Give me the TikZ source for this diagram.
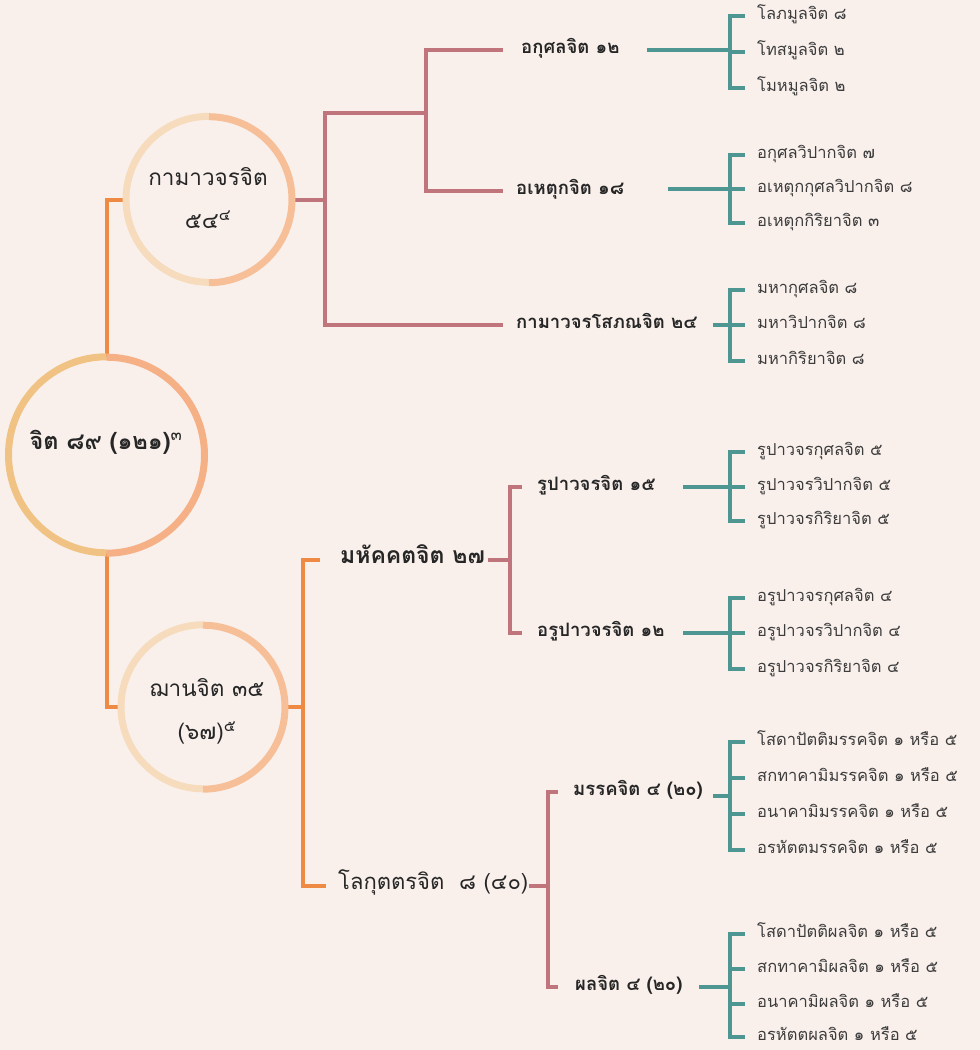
\documentclass[tikz,border=0pt]{standalone}
\usepackage{fontspec}
\newfontfamily\thai[Script=Thai]{Loma}
\definecolor{bg}{HTML}{F9F0EC}
\definecolor{orangeln}{HTML}{EF8A45}
\definecolor{pinkln}{HTML}{C0747C}
\definecolor{tealln}{HTML}{4E9692}
\definecolor{ringAL}{HTML}{F0C384}
\definecolor{ringAR}{HTML}{F5B086}
\definecolor{ringBL}{HTML}{F6DCBD}
\definecolor{ringBR}{HTML}{F7BF98}
\definecolor{txtdark}{HTML}{262626}
\definecolor{txtchild}{HTML}{3C3C3C}
\begin{document}
\begin{tikzpicture}[x=1pt,y=-1pt,
  ringnode/.style={circle,inner sep=0pt,draw=none},
  oline/.style={draw=orangeln,line width=4pt},
  pline/.style={draw=pinkln,line width=4pt},
  tline/.style={draw=tealln,line width=4.5pt},
  lab/.style={inner sep=0pt,anchor=west,text height=0.85em,text depth=0.15em},
  ctext/.style={lab,text=txtchild,font=\thai\fontsize{16.5}{20}\selectfont},
  ptext/.style={lab,text=txtdark,font=\thai\bfseries\fontsize{18.5}{22}\selectfont},
  btext/.style={lab,text=txtdark,font=\thai\bfseries\fontsize{23}{26}\selectfont},
  ltext/.style={lab,text=txtdark,font=\thai\fontsize{22}{26}\selectfont},
  circtext/.style={text=txtdark,align=center,inner sep=0pt,font=\thai\fontsize{22.5}{43}\selectfont}]
\fill[bg] (0,0) rectangle (980,1050);
\useasboundingbox (0,0) rectangle (980,1050);

% circles
\node[ringnode,minimum size=196pt] (root) at (106.5,455) {};
\node[ringnode,minimum size=166pt] (c1) at (209,199.5) {};
\node[ringnode,minimum size=164pt] (c3) at (203,707) {};
\node[text=txtdark,inner sep=0pt,font=\thai\bfseries\fontsize{23.5}{27}\selectfont] (roott) at (106,442) {จิต ๘๙ (๑๒๑)\textsuperscript{\mdseries ๓}};
\node[circtext] (c1t) at (208,198) {กามาวจรจิต\\๕๔\textsuperscript{๔}};
\node[circtext] (c3t) at (207,711) {ฌานจิต ๓๕\\(๖๗)\textsuperscript{๕}};

% level labels
\node[ptext] (akusala) at (521,50) {อกุศลจิต ๑๒};
\node[ptext] (ahetuka) at (516,191) {อเหตุกจิต ๑๘};
\node[ptext] (sobhana) at (516,325) {กามาวจรโสภณจิต ๒๔};
\node[btext] (maha) at (340,560) {มหัคคตจิต ๒๗};
\node[ltext] (loku) at (338,886) {โลกุตตรจิต ~๘ (๔๐)};
\node[ptext] (rupa) at (537,487) {รูปาวจรจิต ๑๕};
\node[ptext] (arupa) at (537,633) {อรูปาวจรจิต ๑๒};
\node[ptext] (magga) at (573,792) {มรรคจิต ๔ (๒๐)};
\node[ptext] (phala) at (575,987) {ผลจิต ๔ (๒๐)};

% children
\node[ctext] (a1) at (757,16) {โลภมูลจิต ๘};
\node[ctext] (a2) at (757,52) {โทสมูลจิต ๒};
\node[ctext] (a3) at (757,88) {โมหมูลจิต ๒};
\node[ctext] (b1) at (757,155) {อกุศลวิปากจิต ๗};
\node[ctext] (b2) at (757,189) {อเหตุกกุศลวิปากจิต ๘};
\node[ctext] (b3) at (757,223) {อเหตุกกิริยาจิต ๓};
\node[ctext] (s1) at (757,290) {มหากุศลจิต ๘};
\node[ctext] (s2) at (757,325) {มหาวิปากจิต ๘};
\node[ctext] (s3) at (757,361) {มหากิริยาจิต ๘};
\node[ctext] (r1) at (757,452) {รูปาวจรกุศลจิต ๕};
\node[ctext] (r2) at (757,487) {รูปาวจรวิปากจิต ๕};
\node[ctext] (r3) at (757,521) {รูปาวจรกิริยาจิต ๕};
\node[ctext] (u1) at (757,598) {อรูปาวจรกุศลจิต ๔};
\node[ctext] (u2) at (757,633) {อรูปาวจรวิปากจิต ๔};
\node[ctext] (u3) at (757,669) {อรูปาวจรกิริยาจิต ๔};
\node[ctext] (m1) at (757,742) {โสดาปัตติมรรคจิต ๑ หรือ ๕};
\node[ctext] (m2) at (757,778) {สกทาคามิมรรคจิต ๑ หรือ ๕};
\node[ctext] (m3) at (757,814) {อนาคามิมรรคจิต ๑ หรือ ๕};
\node[ctext] (m4) at (757,850) {อรหัตตมรรคจิต ๑ หรือ ๕};
\node[ctext] (f1) at (757,934) {โสดาปัตติผลจิต ๑ หรือ ๕};
\node[ctext] (f2) at (757,969) {สกทาคามิผลจิต ๑ หรือ ๕};
\node[ctext] (f3) at (757,1004) {อนาคามิผลจิต ๑ หรือ ๕};
\node[ctext] (f4) at (757,1037) {อรหัตตผลจิต ๑ หรือ ๕};

% junction coordinates
\coordinate (oj) at (303,707);
\coordinate (p1) at (325,199.5);
\coordinate (p2) at (426,113);
\coordinate (pm) at (510,560);
\coordinate (pl) at (548,886);
\coordinate (bx) at (730,0);

% orange connectors
\draw[oline] (root.north) |- (c1.west);
\draw[oline] (root.south) |- (c3.west);
\draw[oline] (c3.east) -- (oj);
\draw[oline] ([xshift=-20pt]maha.west) -| (oj) |- ([xshift=-12pt]loku.west);

% pink connectors
\draw[pline] (c1.east) -- (p1);
\draw[pline] ([xshift=-18pt]akusala.west) -| (p2) |- ([xshift=-13pt]ahetuka.west);
\draw[pline] (p2) -| (p1) |- ([xshift=-13pt]sobhana.west);
\draw[pline] ([xshift=3pt]maha.east) -- (pm);
\draw[pline] ([xshift=-15pt]rupa.west) -| (pm) |- ([xshift=-15pt]arupa.west);
\draw[pline] (loku.east) -- (pl);
\draw[pline] ([xshift=-15pt]magga.west) -| (pl) |- ([xshift=-17pt]phala.west);

% teal connectors
\coordinate (t1) at (647,50);
\coordinate (t2) at (668,189);
\coordinate (t3) at (713,325);
\coordinate (t4) at (683,487);
\coordinate (t5) at (683,633);
\coordinate (t6) at (713,796);
\coordinate (t7) at (699,987);
\draw[tline] (t1) -- (t1 -| bx);
\draw[tline] (t2) -- (t2 -| bx);
\draw[tline] (t3) -- (t3 -| bx);
\draw[tline] (t4) -- (t4 -| bx);
\draw[tline] (t5) -- (t5 -| bx);
\draw[tline] (t6) -- (t6 -| bx);
\draw[tline] (t7) -- (t7 -| bx);
\draw[tline] ([xshift=-12pt]a1.west) -| (a3.west -| bx) -- ([xshift=-12pt]a3.west);
\draw[tline] (a2.west -| bx) -- ([xshift=-12pt]a2.west);
\draw[tline] ([xshift=-12pt]b1.west) -| (b3.west -| bx) -- ([xshift=-12pt]b3.west);
\draw[tline] (b2.west -| bx) -- ([xshift=-12pt]b2.west);
\draw[tline] ([xshift=-12pt]s1.west) -| (s3.west -| bx) -- ([xshift=-12pt]s3.west);
\draw[tline] (s2.west -| bx) -- ([xshift=-12pt]s2.west);
\draw[tline] ([xshift=-12pt]r1.west) -| (r3.west -| bx) -- ([xshift=-12pt]r3.west);
\draw[tline] (r2.west -| bx) -- ([xshift=-12pt]r2.west);
\draw[tline] ([xshift=-12pt]u1.west) -| (u3.west -| bx) -- ([xshift=-12pt]u3.west);
\draw[tline] (u2.west -| bx) -- ([xshift=-12pt]u2.west);
\draw[tline] ([xshift=-12pt]m1.west) -| (m4.west -| bx) -- ([xshift=-12pt]m4.west);
\draw[tline] (m2.west -| bx) -- ([xshift=-12pt]m2.west);
\draw[tline] (m3.west -| bx) -- ([xshift=-12pt]m3.west);
\draw[tline] ([xshift=-12pt]f1.west) -| (f4.west -| bx) -- ([xshift=-12pt]f4.west);
\draw[tline] (f2.west -| bx) -- ([xshift=-12pt]f2.west);
\draw[tline] (f3.west -| bx) -- ([xshift=-12pt]f3.west);

% rings (drawn last, over connector ends)
\draw[draw=ringAL,line width=7pt] (root.north) arc[start angle=90,end angle=270,radius=98pt];
\draw[draw=ringAR,line width=7pt] (root.south) arc[start angle=-90,end angle=90,radius=98pt];
\draw[draw=ringBL,line width=7pt] (c1.north) arc[start angle=90,end angle=270,radius=83pt];
\draw[draw=ringBR,line width=7pt] (c1.south) arc[start angle=-90,end angle=90,radius=83pt];
\draw[draw=ringBL,line width=7pt] (c3.north) arc[start angle=90,end angle=270,radius=82pt];
\draw[draw=ringBR,line width=7pt] (c3.south) arc[start angle=-90,end angle=90,radius=82pt];
\end{tikzpicture}
\end{document}
